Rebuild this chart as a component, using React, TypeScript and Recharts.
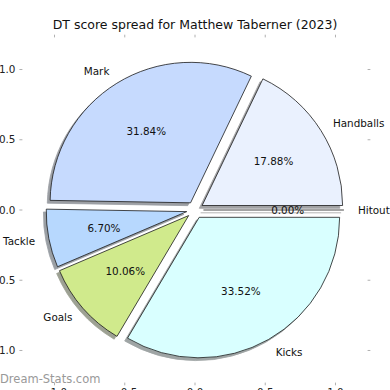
import React from 'react';
import { PieChart, Pie, ScatterChart, Scatter, XAxis, YAxis } from 'recharts';

const TITLE = 'DT score spread for Matthew Taberner (2023)';
const WATERMARK = 'Dream-Stats.com';
const categories = ['Handballs', 'Mark', 'Tackle', 'Goals', 'Kicks', 'Hitout'];
const shares = [17.88, 31.84, 6.7, 10.06, 33.52, 0];
const colors = ['#eaf1fe', '#c6dafe', '#b7d8fe', '#d0ea8c', '#d9ffff', '#e8e8e8'];
const axisTicks = [-1, -0.5, 0, 0.5, 1];
const axisDomain = [-1.25, 1.25];

const W = 390;
const H = 390;
const PLOT_LEFT = 19.4;
const PLOT_RIGHT = 370.6;
const PLOT_TOP = 34.4;
const PLOT_BOTTOM = 385.6;
const UNIT = (PLOT_RIGHT - PLOT_LEFT) / (axisDomain[1] - axisDomain[0]);
const CX = (PLOT_LEFT + PLOT_RIGHT) / 2;
const CY = (PLOT_TOP + PLOT_BOTTOM) / 2;
const EXPLODE = 0.06;
const SHADOW = 0.02;
const FONT = '"DejaVu Sans", Verdana, sans-serif';
const TICK_COLOR = '#b0b0b0';
const TICK_LEN = 3;

const data = categories.map((name, i) => ({ name, value: shares[i], fill: colors[i] }));
const topTicks = axisTicks.map((v) => ({ x: v, y: axisDomain[1] }));
const bottomTicks = axisTicks.map((v) => ({ x: v, y: axisDomain[0] }));
const rightTicks = axisTicks.map((v) => ({ x: axisDomain[1], y: v }));

const RAD = Math.PI / 180;
const pt = (cx: number, cy: number, r: number, deg: number) => [cx + r * Math.cos(deg * RAD), cy - r * Math.sin(deg * RAD)];

function wedgePath(cx: number, cy: number, r: number, s: number, e: number) {
  const [x1, y1] = pt(cx, cy, r, s);
  const [x2, y2] = pt(cx, cy, r, e);
  if (Math.abs(e - s) < 1e-6) return `M${cx},${cy}L${x1},${y1}`;
  const large = Math.abs(e - s) > 180 ? 1 : 0;
  return `M${cx},${cy}L${x1},${y1}A${r},${r} 0 ${large} 0 ${x2},${y2}Z`;
}

function darken(hex: string) {
  const n = parseInt(hex.slice(1), 16);
  const r = Math.round(((n >> 16) & 255) * 0.3);
  const g = Math.round(((n >> 8) & 255) * 0.3);
  const b = Math.round((n & 255) * 0.3);
  return `rgb(${r},${g},${b})`;
}

function explodedCenter(props: any) {
  const { cx, cy, outerRadius, startAngle, endAngle } = props;
  const mid = (startAngle + endAngle) / 2;
  return [cx + EXPLODE * outerRadius * Math.cos(mid * RAD), cy - EXPLODE * outerRadius * Math.sin(mid * RAD)];
}

const WedgeShape = (props: any) => {
  const { outerRadius, startAngle, endAngle } = props;
  const fill = props.payload?.fill ?? props.fill;
  const [ex, ey] = explodedCenter(props);
  return (
    <path d={wedgePath(ex, ey, outerRadius, startAngle, endAngle)} fill={fill} stroke="#1a1a1a" strokeWidth={0.8} strokeLinejoin="round" />
  );
};

const ShadowShape = (props: any) => {
  const { outerRadius, startAngle, endAngle } = props;
  const fill = props.payload?.fill ?? props.fill;
  const [ex, ey] = explodedCenter(props);
  const c = darken(fill);
  return (
    <path
      d={wedgePath(ex - SHADOW * outerRadius, ey + SHADOW * outerRadius, outerRadius, startAngle, endAngle)}
      fill={c}
      stroke={c}
      strokeWidth={0.8}
      opacity={0.5}
    />
  );
};

const renderLabel = (props: any) => {
  const { cx, cy, outerRadius, midAngle, percent, name } = props;
  const cosA = Math.cos(midAngle * RAD);
  const sinA = Math.sin(midAngle * RAD);
  const lr = (1.1 + EXPLODE) * outerRadius;
  const pr = (0.6 + EXPLODE) * outerRadius;
  const lx = cx + lr * cosA;
  const ly = cy - lr * sinA;
  const px = cx + pr * cosA;
  const py = cy - pr * sinA;
  return (
    <g>
      <text x={lx} y={ly} textAnchor={lx > cx ? 'start' : 'end'} dominantBaseline="central" fontSize={10.4} fontFamily={FONT} fill="#111">
        {name}
      </text>
      <text x={px} y={py} textAnchor="middle" dominantBaseline="central" fontSize={10.4} fontFamily={FONT} fill="#111">
        {`${(percent * 100).toFixed(2)}%`}
      </text>
    </g>
  );
};

const TopTick = (p: any) => <line x1={p.cx} y1={p.cy} x2={p.cx} y2={p.cy + TICK_LEN} stroke={TICK_COLOR} strokeWidth={1} />;
const BottomTick = (p: any) => <line x1={p.cx} y1={p.cy} x2={p.cx} y2={p.cy - TICK_LEN} stroke={TICK_COLOR} strokeWidth={1} />;
const RightTick = (p: any) => <line x1={p.cx} y1={p.cy} x2={p.cx - TICK_LEN} y2={p.cy} stroke={TICK_COLOR} strokeWidth={1} />;

const fmt = (v: number) => v.toFixed(1).replace('-', '\u2212');
const tickStyle = { fontSize: 10.4, fill: '#222', fontFamily: FONT };

export default function App() {
  return (
    <div style={{ position: 'absolute', left: 0, top: 0, width: W, height: H, background: '#fff' }}>
      <div style={{ position: 'absolute', left: 0, top: 0 }}>
        <ScatterChart width={W} height={H} margin={{ top: PLOT_TOP, right: W - PLOT_RIGHT, bottom: 0, left: 0 }}>
          <XAxis xAxisId="b" dataKey="x" orientation="bottom" type="number" domain={axisDomain} ticks={axisTicks} interval={0}
            height={H - PLOT_BOTTOM} axisLine={false} tickLine={false} tickSize={0} tickMargin={3.4}
            tick={tickStyle} tickFormatter={fmt} allowDataOverflow />
          <YAxis yAxisId="l" dataKey="y" orientation="left" type="number" domain={axisDomain} ticks={axisTicks} interval={0}
            width={PLOT_LEFT} axisLine={false} tickSize={-3} tickMargin={7}
            tickLine={{ stroke: TICK_COLOR, strokeWidth: 1 }} tick={tickStyle} tickFormatter={fmt} allowDataOverflow />
          <Scatter data={topTicks} xAxisId="b" yAxisId="l" isAnimationActive={false} shape={TopTick} />
          <Scatter data={bottomTicks} xAxisId="b" yAxisId="l" isAnimationActive={false} shape={BottomTick} />
          <Scatter data={rightTicks} xAxisId="b" yAxisId="l" isAnimationActive={false} shape={RightTick} />
        </ScatterChart>
      </div>
      <div style={{ position: 'absolute', left: 0, top: 0 }}>
        <PieChart width={W} height={H} margin={{ top: 0, right: 0, bottom: 0, left: 0 }}>
          <Pie data={data} dataKey="value" nameKey="name" cx={CX} cy={CY} outerRadius={UNIT}
            startAngle={0} endAngle={360} isAnimationActive={false}
            {...({ shape: ShadowShape } as any)}
            activeShape={ShadowShape} inactiveShape={ShadowShape} label={false} labelLine={false} />
          <Pie data={data} dataKey="value" nameKey="name" cx={CX} cy={CY} outerRadius={UNIT}
            startAngle={0} endAngle={360} isAnimationActive={false}
            {...({ shape: WedgeShape } as any)}
            activeShape={WedgeShape} inactiveShape={WedgeShape} label={renderLabel} labelLine={false} />
        </PieChart>
      </div>
      <svg width={W} height={H} style={{ position: 'absolute', left: 0, top: 0, pointerEvents: 'none' }}>
        <text x={CX} y={29.3} textAnchor="middle" fontSize={12.5} fontFamily={FONT} fill="#111">{TITLE}</text>
        <text x={0} y={383.3} textAnchor="start" fontSize={11.5} fontFamily={FONT} fill="#999">{WATERMARK}</text>
      </svg>
    </div>
  );
}
